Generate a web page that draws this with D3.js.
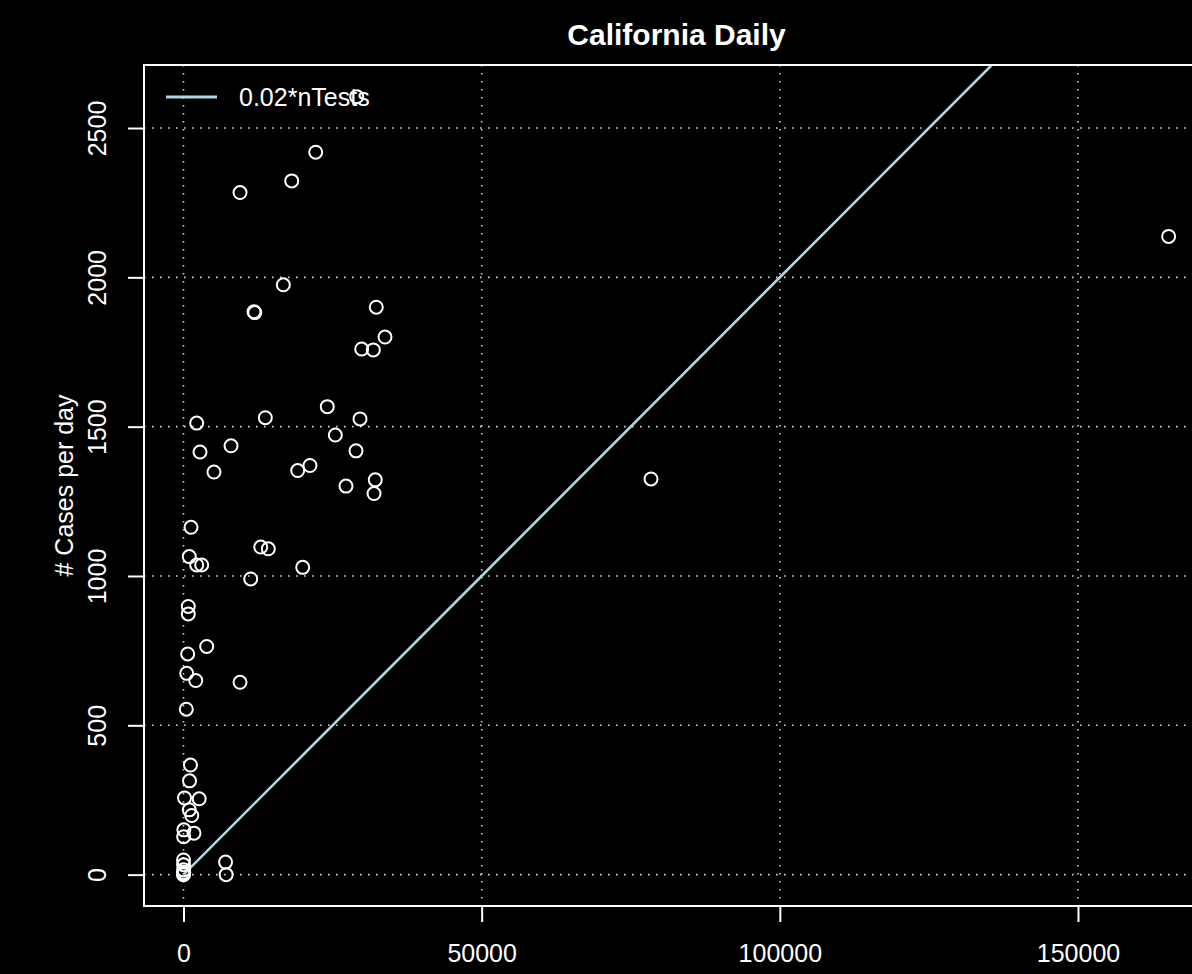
<!DOCTYPE html>
<html>
<head>
<meta charset="utf-8">
<script src="https://cdn.jsdelivr.net/npm/d3@7"></script>
<style>
  body { margin: 0; background: #000; }
  text { font-family: "Liberation Sans", Arial, sans-serif; fill: #fff; }
</style>
</head>
<body>
<div id="chart"></div>
<script>
// daily tests vs daily new cases
const nTests = [29050, 22170, 18150, 9480, 16740, 11820, 11950, 32330, 33790, 29880,
  31830, 24110, 13720, 2210, 29600, 25460, 2770, 7970, 28930, 5110,
  19150, 21210, 32160, 27250, 31950, 78400, 165200, 1260, 12950, 14220,
  970, 2210, 3050, 19990, 11270, 800, 800, 3890, 700, 540,
  2050, 9480, 470, 1170, 1010, 170, 2630, 970, 1380, 60,
  1760, 30, 0, 10, 20, 0, 40, 0, 7050, 7150]
const nCases = [2605, 2419, 2323, 2284, 1975, 1885, 1882, 1900, 1800, 1760,
  1757, 1567, 1530, 1512, 1526, 1472, 1415, 1436, 1419, 1348,
  1353, 1370, 1322, 1301, 1276, 1325, 2137, 1163, 1097, 1091,
  1065, 1037, 1037, 1029, 990, 898, 873, 764, 739, 674,
  650, 644, 554, 367, 314, 257, 254, 217, 198, 150,
  139, 127, 49, 33, 16, 0, 8, 3, 42, 0]

const xTicks = [0, 50000, 100000, 150000]
const yTicks = [0, 500, 1000, 1500, 2000, 2500]
const slope = 0.02
const title = "California Daily"
const yLabel = "# Cases per day"
const legendLabel = "0.02*nTests"

const width = 1192
const height = 974
const plot = {left: 144, right: 1209, top: 65, bottom: 906}

const svg = d3.select("#chart")
  .append("svg")
  .attr("width", width)
  .attr("height", height)
  .style("background", "#000")

const x = d3.scaleLinear()
  .domain([-6624, 171970])
  .range([plot.left, plot.right])

const y = d3.scaleLinear()
  .domain([-105, 2711])
  .range([plot.bottom, plot.top])

svg.append("clipPath")
  .attr("id", "clip")
  .append("rect")
  .attr("x", plot.left)
  .attr("y", plot.top)
  .attr("width", plot.right - plot.left)
  .attr("height", plot.bottom - plot.top)

// dotted grid
const grid = svg.append("g")
  .attr("stroke", "#d3d3d3")
  .attr("stroke-width", 1.6)
  .attr("stroke-dasharray", "1.6 6.4")

grid.selectAll(".gx")
  .data(xTicks)
  .join("line")
  .attr("x1", d => x(d)).attr("x2", d => x(d))
  .attr("y1", plot.top).attr("y2", plot.bottom)

grid.selectAll(".gy")
  .data(yTicks)
  .join("line")
  .attr("x1", plot.left).attr("x2", plot.right)
  .attr("y1", d => y(d)).attr("y2", d => y(d))

// reference line cases = 0.02 * tests, drawn from the origin
const lineEnd = d3.max(nTests)
svg.append("line")
  .attr("clip-path", "url(#clip)")
  .attr("x1", x(0)).attr("y1", y(0))
  .attr("x2", x(lineEnd)).attr("y2", y(slope * lineEnd))
  .attr("stroke", "#add8e6")
  .attr("stroke-width", 2.6)

// points
svg.append("g")
  .attr("clip-path", "url(#clip)")
  .selectAll("circle")
  .data(d3.range(nTests.length))
  .join("circle")
  .attr("cx", i => x(nTests[i]))
  .attr("cy", i => y(nCases[i]))
  .attr("r", 6.5)
  .attr("fill", "none")
  .attr("stroke", "#fff")
  .attr("stroke-width", 2)

// box
svg.append("rect")
  .attr("x", plot.left)
  .attr("y", plot.top)
  .attr("width", plot.right - plot.left)
  .attr("height", plot.bottom - plot.top)
  .attr("fill", "none")
  .attr("stroke", "#fff")
  .attr("stroke-width", 2)

// x axis
const xAxis = svg.append("g")
  .attr("transform", `translate(0,${plot.bottom})`)
  .call(d3.axisBottom(x).tickValues(xTicks).tickFormat(d3.format("d")).tickSize(16).tickPadding(22))
xAxis.select(".domain").remove()
xAxis.selectAll("line").attr("stroke", "#fff").attr("stroke-width", 2)
xAxis.selectAll("text")
  .attr("fill", "#fff")
  .style("font-size", "25px")
  .style("font-family", "'Liberation Sans', Arial, sans-serif")

// y axis, labels parallel to the axis like base R
const yAxis = svg.append("g")
  .attr("transform", `translate(${plot.left},0)`)
  .call(d3.axisLeft(y).tickValues(yTicks).tickFormat(d3.format("d")).tickSize(16))
yAxis.select(".domain").remove()
yAxis.selectAll("line").attr("stroke", "#fff").attr("stroke-width", 2)
yAxis.selectAll("text")
  .attr("fill", "#fff")
  .attr("x", null).attr("dy", null)
  .attr("text-anchor", "middle")
  .attr("transform", "translate(-38,0) rotate(-90)")
  .attr("y", 0)
  .style("font-size", "25px")
  .style("font-family", "'Liberation Sans', Arial, sans-serif")

svg.append("text")
  .attr("transform", `translate(73,${(plot.top + plot.bottom) / 2}) rotate(-90)`)
  .attr("text-anchor", "middle")
  .style("font-size", "25px")
  .text(yLabel)

svg.append("text")
  .attr("x", (plot.left + plot.right) / 2)
  .attr("y", 45)
  .attr("text-anchor", "middle")
  .style("font-size", "30px")
  .style("font-weight", "bold")
  .text(title)

// legend, no box
svg.append("line")
  .attr("x1", 166).attr("x2", 217)
  .attr("y1", 97).attr("y2", 97)
  .attr("stroke", "#add8e6")
  .attr("stroke-width", 3)

svg.append("text")
  .attr("x", 239)
  .attr("y", 106)
  .style("font-size", "25px")
  .text(legendLabel)
</script>
</body>
</html>
